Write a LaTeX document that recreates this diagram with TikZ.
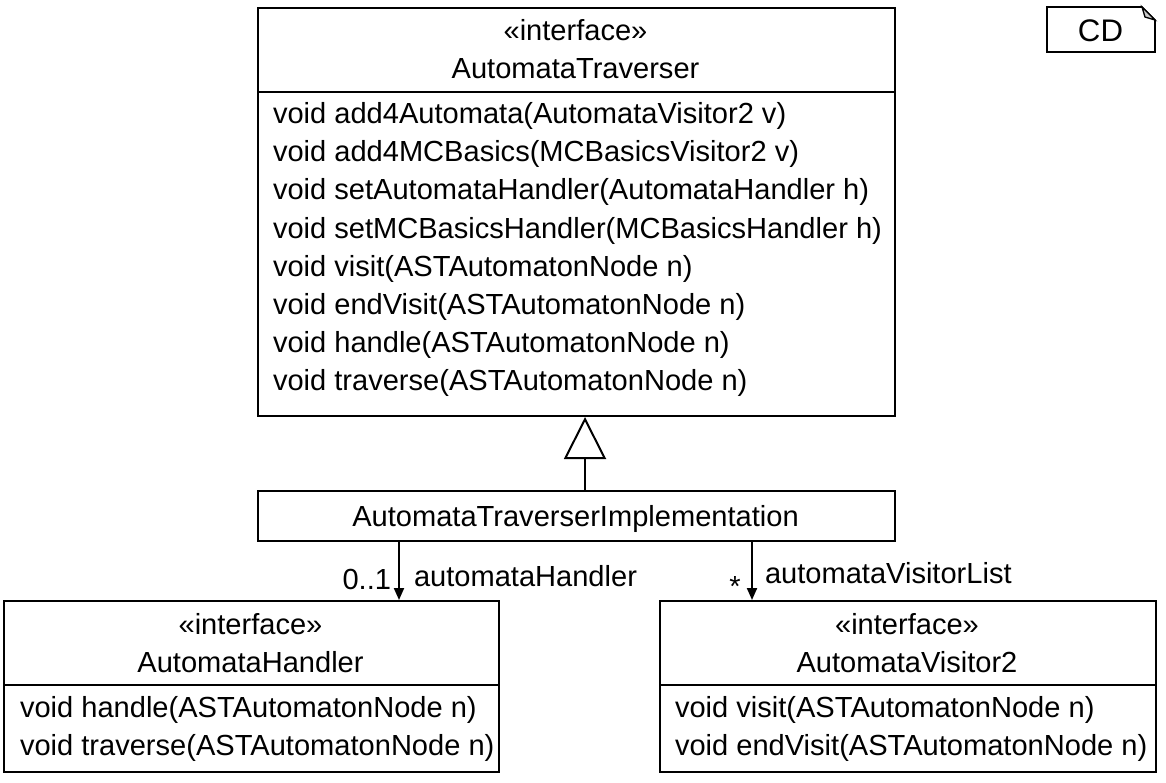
\documentclass[tikz,border=0pt]{standalone}
\usepackage{fontspec}
\setmainfont{Liberation Sans}
\usetikzlibrary{positioning, arrows.meta}

\begin{document}
\begin{tikzpicture}[x=0.75pt, y=-0.75pt, line width=1.5pt,
   font=\fontsize{21.8}{25}\selectfont,
   classbox/.style={draw, rectangle, anchor=north west, inner sep=0pt},
   txt/.style={anchor=base west, inner sep=0pt},
   ctxt/.style={anchor=base, inner sep=0pt},
   assoc/.style={-{Triangle[length=9pt,width=7.5pt]}},
   inherit/.style={-{Triangle[open,length=31.5pt,width=31.5pt]}}]
\useasboundingbox (0,0) rectangle (1166,782);

% AutomataTraverser
\node (trav) [classbox, minimum width=477.75pt, minimum height=306pt] at (257,7) {};
\draw ([yshift=-63.75pt]trav.north west) -- ([yshift=-63.75pt]trav.north east);
\node (travst) [ctxt] at (575.5,40) {«interface»};
\node (travnm) [ctxt] at (575.5,78) {AutomataTraverser};
\foreach \m [count=\i from 0] in {void add4Automata(AutomataVisitor2 v),
    void add4MCBasics(MCBasicsVisitor2 v),
    void setAutomataHandler(AutomataHandler h),
    void setMCBasicsHandler(MCBasicsHandler h),
    void visit(ASTAutomatonNode n),
    void endVisit(ASTAutomatonNode n),
    void handle(ASTAutomatonNode n),
    void traverse(ASTAutomatonNode n)}
  \node (travm\i) [txt] at (272,123.5+38.2*\i) {\m};

% implementation
\node (impl) [classbox, minimum width=477.75pt, minimum height=37.5pt] at (257,490) {};
\node (implnm) [ctxt] at (575.5,526.5) {AutomataTraverserImplementation};

% AutomataHandler
\node (hand) [classbox, minimum width=371.25pt, minimum height=128.25pt] at (3,600) {};
\draw ([yshift=-63.75pt]hand.north west) -- ([yshift=-63.75pt]hand.north east);
\node (handst) [ctxt] at (250.5,634) {«interface»};
\node (handnm) [ctxt] at (250.5,672) {AutomataHandler};
\node (handm0) [txt] at (19,717) {void handle(ASTAutomatonNode n)};
\node (handm1) [txt] at (19,755) {void traverse(ASTAutomatonNode n)};

% AutomataVisitor2
\node (vis) [classbox, minimum width=372pt, minimum height=128.25pt] at (659,600) {};
\draw ([yshift=-63.75pt]vis.north west) -- ([yshift=-63.75pt]vis.north east);
\node (visst) [ctxt] at (907,634) {«interface»};
\node (visnm) [ctxt] at (907,672) {AutomataVisitor2};
\node (vism0) [txt] at (674,717) {void visit(ASTAutomatonNode n)};
\node (vism1) [txt] at (674,755) {void endVisit(ASTAutomatonNode n)};

% connectors
\coordinate (gx) at (585,0);
\coordinate (hx) at (399,0);
\coordinate (vx) at (752,0);
\draw[inherit] (gx |- impl.north) -- (gx |- trav.south);
\draw[assoc] (hx |- impl.south) -- (hx |- hand.north);
\draw[assoc] (vx |- impl.south) -- (vx |- vis.north);
\node (hmult) [anchor=base east, inner sep=0pt] at (392,589) {0..1};
\node (hrole) [txt] at (413,586) {automataHandler};
\node (vmult) [ctxt] at (735,596) {*};
\node (vrole) [txt] at (764,583) {automataVisitorList};

% diagram tag
\draw[line width=1.2pt] (1047,7) -- (1142,7) -- (1155,20) -- (1155,52) -- (1047,52) -- cycle;
\draw[line width=1pt, fill=gray!40] (1142,7) -- (1145,17) -- (1155,20) -- cycle;
\node (cd) [ctxt, font=\fontsize{23.4}{28}\selectfont] at (1100.5,41.5) {CD};
\end{tikzpicture}
\end{document}
